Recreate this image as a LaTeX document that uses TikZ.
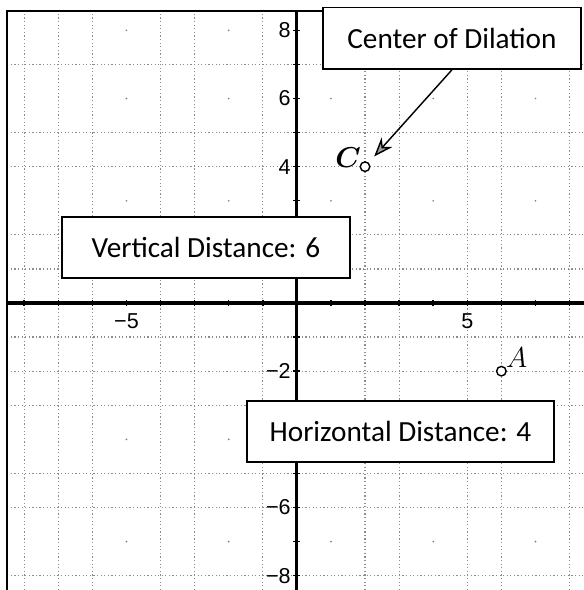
\documentclass[tikz,border=0pt]{standalone}
\usepackage{fontspec}
\setmainfont{Carlito}
\newfontfamily\ticksfont{Liberation Sans}
\usetikzlibrary{arrows.meta}
\begin{document}
\begin{tikzpicture}[x=0.5cm, y=0.5cm,
  gridline/.style={gray!90, densely dotted, line width=0.5pt},
  axisline/.style={line width=1.3pt},
  ticklab/.style={font=\ticksfont\fontsize{9}{11}\selectfont, inner sep=1pt},
  distbox/.style={draw, line width=0.8pt, fill=white, font=\fontsize{12.2}{14}\selectfont, minimum height=0.9cm},
  ptmark/.style={circle, draw, line width=0.6pt, fill=white, inner sep=0pt, minimum size=0.14cm},
  ptlabel/.style={font=\fontsize{12}{14}\selectfont, inner sep=0pt}]
  \useasboundingbox (-8.71,-8.42) rectangle (8.42,8.89);
  % grid, as scanned
  \foreach \x in {-8,-7,-6,-4,-3,-1,2,3,5,6,8} \draw[gridline] (\x,-8.42) -- (\x,8.5);
  \foreach \y in {7,5,4,2,1,-1,-2,-3,-5,-6,-8} \draw[gridline] (-8.5,\y) -- (8.42,\y);
  \foreach \x in {-5,-2,1,4,7} \foreach \y in {8,6,3,-4,-7} \fill[gray] (\x,\y) circle (0.4pt);
  % axes and ticks
  \draw[axisline] (-8.5,0) -- (8.42,0);
  \draw[axisline] (0,-8.42) -- (0,8.56);
  \foreach \t in {-8,...,8} {\draw[line width=0.6pt] (\t,-0.1) -- (\t,0.1); \draw[line width=0.6pt] (-0.1,\t) -- (0.1,\t);}
  \foreach \y/\lab in {8/8,6/6,4/4,-2/−2,-6/−6,-8/−8} \node[ticklab, anchor=east] (ylab\y) at (-0.1,\y) {\lab};
  \foreach \x/\lab in {-5/−5,5/5} \node[ticklab, anchor=north] (xlab\x) at (\x,-0.22) {\lab};
  % frame
  \draw[line width=0.8pt] (-8.5,-8.42) -- (-8.5,8.56) -- (2,8.56);
  % points
  \node[ptmark] (C) at (2,4) {};
  \node[ptmark] (A) at (6,-2) {};
  \node[ptlabel, font=\fontsize{12}{14}\selectfont\boldmath] (Clab) at (1.5,4.27) {$C$};
  \node[ptlabel] (Alab) at (6.45,-1.6) {$A$};
  % annotate
  \node[distbox, minimum width=3.78cm] (cod) at (4.55,7.77) {Center of Dilation};
  \node[distbox, minimum width=4.22cm] (vdist) at (-2.67,1.63) {Vertical Distance: 6};
  \node[distbox, minimum width=4.5cm] (hdist) at (3.04,-3.77) {Horizontal Distance: 4};
  \draw[line width=0.6pt, -{Stealth[length=8pt, width=6pt, fill=gray!75]}, shorten >=0.12cm] (cod.south) -- (C);
\end{tikzpicture}
\end{document}
